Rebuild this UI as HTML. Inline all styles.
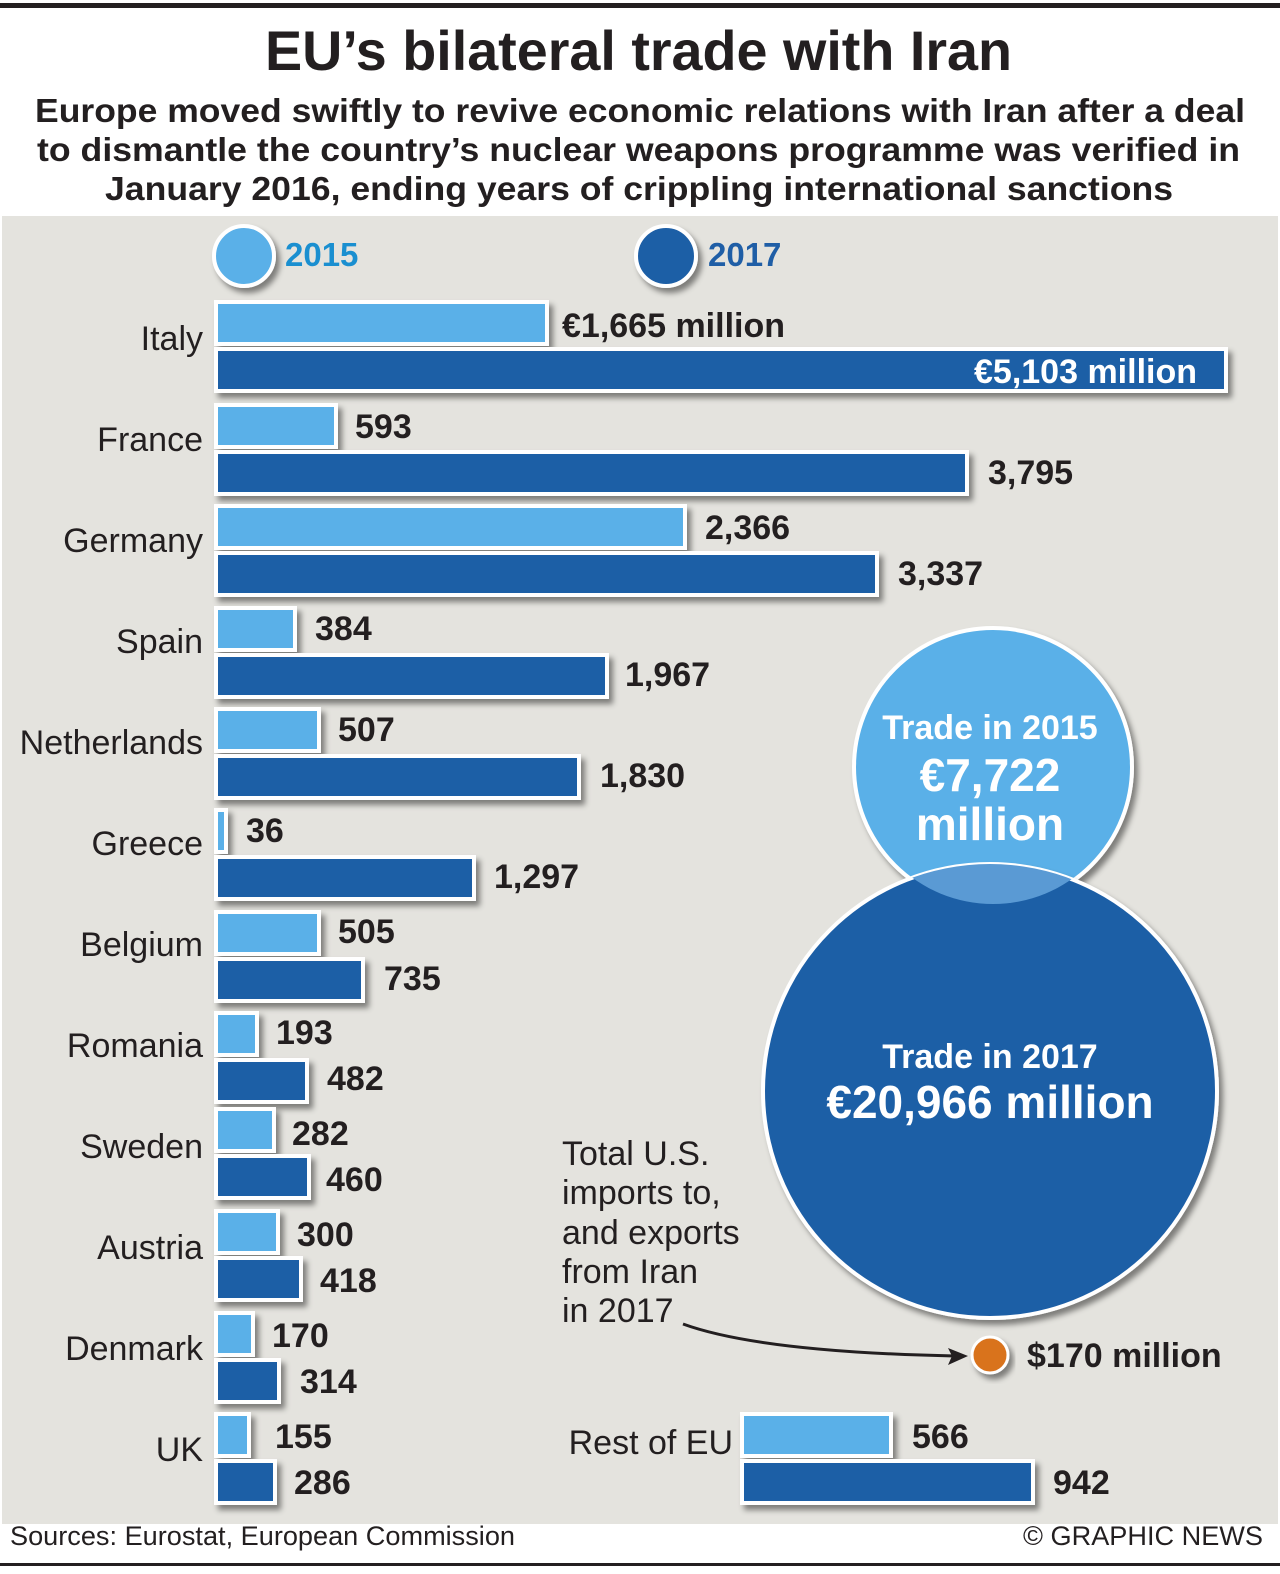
<!DOCTYPE html>
<html><head><meta charset="utf-8"><style>
html,body{margin:0;padding:0;background:#fff;}
svg{display:block;}
text{font-family:"Liberation Sans",Arial,sans-serif;}
.b{font-weight:bold;fill:#231f20;font-size:34px;}
.c{fill:#231f20;font-size:34px;text-anchor:end;}
</style></head><body>
<svg width="1280" height="1574" viewBox="0 0 1280 1574" xmlns="http://www.w3.org/2000/svg">
<defs>
<filter id="sh" x="-10%" y="-10%" width="130%" height="140%"><feDropShadow dx="4" dy="5" stdDeviation="3" flood-color="#000" flood-opacity="0.45"/></filter>
<clipPath id="cp"><circle cx="990" cy="1091" r="227"/></clipPath>
</defs>
<rect x="0" y="0" width="1280" height="1574" fill="#fff"/>
<rect x="0" y="3" width="1280" height="5" fill="#231f20"/>
<text x="265" y="70" font-size="56" font-weight="bold" fill="#231f20" textLength="747" lengthAdjust="spacingAndGlyphs">EU’s bilateral trade with Iran</text>
<text x="35" y="122" font-size="33" font-weight="bold" fill="#231f20" textLength="1210" lengthAdjust="spacingAndGlyphs">Europe moved swiftly to revive economic relations with Iran after a deal</text>
<text x="37" y="161" font-size="33" font-weight="bold" fill="#231f20" textLength="1203" lengthAdjust="spacingAndGlyphs">to dismantle the country’s nuclear weapons programme was verified in</text>
<text x="105" y="200" font-size="33" font-weight="bold" fill="#231f20" textLength="1068" lengthAdjust="spacingAndGlyphs">January 2016, ending years of crippling international sanctions</text>
<rect x="2" y="216" width="1276" height="1308" fill="#e4e3de"/>
<circle cx="244" cy="256" r="30" fill="#5ab0e8" stroke="#fff" stroke-width="4" filter="url(#sh)"/>
<text x="285" y="266" font-size="33" font-weight="bold" fill="#1a8fd0">2015</text>
<circle cx="666" cy="256" r="30" fill="#1f5ea6" stroke="#fff" stroke-width="4" filter="url(#sh)"/>
<text x="708" y="266" font-size="33" font-weight="bold" fill="#1f5ea6">2017</text>
<g stroke="#fff" stroke-width="4" filter="url(#sh)">
<rect x="216" y="302" width="331" height="42" fill="#5ab0e8"/><rect x="216" y="349" width="1010" height="42" fill="#1f5ea6"/>
<rect x="216" y="405" width="120" height="42" fill="#5ab0e8"/><rect x="216" y="452" width="751" height="42" fill="#1f5ea6"/>
<rect x="216" y="506" width="469" height="42" fill="#5ab0e8"/><rect x="216" y="553" width="661" height="42" fill="#1f5ea6"/>
<rect x="216" y="608" width="79" height="42" fill="#5ab0e8"/><rect x="216" y="655" width="391" height="42" fill="#1f5ea6"/>
<rect x="216" y="709" width="103" height="42" fill="#5ab0e8"/><rect x="216" y="756" width="363" height="42" fill="#1f5ea6"/>
<rect x="216" y="810" width="10" height="42" fill="#5ab0e8"/><rect x="216" y="857" width="258" height="42" fill="#1f5ea6"/>
<rect x="216" y="912" width="103" height="42" fill="#5ab0e8"/><rect x="216" y="959" width="147" height="42" fill="#1f5ea6"/>
<rect x="216" y="1013" width="41" height="42" fill="#5ab0e8"/><rect x="216" y="1060" width="91" height="42" fill="#1f5ea6"/>
<rect x="216" y="1109" width="58" height="42" fill="#5ab0e8"/><rect x="216" y="1156" width="93" height="42" fill="#1f5ea6"/>
<rect x="216" y="1211" width="62" height="42" fill="#5ab0e8"/><rect x="216" y="1258" width="85" height="42" fill="#1f5ea6"/>
<rect x="216" y="1313" width="37" height="42" fill="#5ab0e8"/><rect x="216" y="1360" width="63" height="42" fill="#1f5ea6"/>
<rect x="216" y="1414" width="33" height="42" fill="#5ab0e8"/><rect x="216" y="1461" width="59" height="42" fill="#1f5ea6"/>
<rect x="742" y="1414" width="149" height="42" fill="#5ab0e8"/><rect x="742" y="1461" width="291" height="42" fill="#1f5ea6"/>
</g>
<g class="c">
<text x="203" y="350">Italy</text><text x="203" y="451">France</text><text x="203" y="552">Germany</text>
<text x="203" y="653">Spain</text><text x="203" y="754">Netherlands</text><text x="203" y="855">Greece</text>
<text x="203" y="956">Belgium</text><text x="203" y="1057">Romania</text><text x="203" y="1158">Sweden</text>
<text x="203" y="1259">Austria</text><text x="203" y="1360">Denmark</text><text x="203" y="1461">UK</text>
<text x="733" y="1454">Rest of EU</text>
</g>
<g class="b">
<text x="562" y="337">€1,665 million</text>
<text x="1197" y="383" text-anchor="end" style="fill:#fff">€5,103 million</text>
<text x="355" y="438">593</text><text x="988" y="484">3,795</text>
<text x="705" y="539">2,366</text><text x="898" y="585">3,337</text>
<text x="315" y="640">384</text><text x="625" y="686">1,967</text>
<text x="338" y="741">507</text><text x="600" y="787">1,830</text>
<text x="246" y="842">36</text><text x="494" y="888">1,297</text>
<text x="338" y="943">505</text><text x="384" y="990">735</text>
<text x="276" y="1044">193</text><text x="327" y="1090">482</text>
<text x="292" y="1145">282</text><text x="326" y="1191">460</text>
<text x="297" y="1246">300</text><text x="320" y="1292">418</text>
<text x="272" y="1347">170</text><text x="300" y="1393">314</text>
<text x="275" y="1448">155</text><text x="294" y="1494">286</text>
<text x="912" y="1448">566</text><text x="1053" y="1494">942</text>
</g>
<circle cx="993" cy="767" r="139" fill="#5ab0e8" stroke="#fff" stroke-width="4" filter="url(#sh)"/>
<circle cx="990" cy="1091" r="227" fill="#1f5ea6" stroke="#fff" stroke-width="4" filter="url(#sh)"/>
<circle cx="993" cy="767" r="137" fill="#5a9ad4" clip-path="url(#cp)"/>
<text x="990" y="739" text-anchor="middle" font-size="34" font-weight="bold" fill="#fff">Trade in 2015</text>
<text x="990" y="791" text-anchor="middle" font-size="46" font-weight="bold" fill="#fff">€7,722</text>
<text x="990" y="840" text-anchor="middle" font-size="46" font-weight="bold" fill="#fff">million</text>
<text x="990" y="1068" text-anchor="middle" font-size="34" font-weight="bold" fill="#fff">Trade in 2017</text>
<text x="990" y="1118" text-anchor="middle" font-size="46" font-weight="bold" fill="#fff">€20,966 million</text>
<g font-size="34" fill="#231f20">
<text x="562" y="1165">Total U.S.</text><text x="562" y="1204">imports to,</text>
<text x="562" y="1244">and exports</text><text x="562" y="1283">from Iran</text><text x="562" y="1322">in 2017</text>
</g>
<path d="M 683 1324 Q 760 1352 955 1356" fill="none" stroke="#231f20" stroke-width="3"/>
<polygon points="968,1356 948,1348 952,1356 948,1365" fill="#231f20"/>
<circle cx="990" cy="1355" r="18" fill="#d9731f" stroke="#fff" stroke-width="3" filter="url(#sh)"/>
<text x="1027" y="1367" class="b">$170 million</text>
<text x="10" y="1545" font-size="27" fill="#231f20" textLength="505" lengthAdjust="spacingAndGlyphs">Sources: Eurostat, European Commission</text>
<text x="1263" y="1545" font-size="27" fill="#231f20" text-anchor="end" textLength="240" lengthAdjust="spacingAndGlyphs">© GRAPHIC NEWS</text>
<rect x="0" y="1563" width="1280" height="3" fill="#231f20"/>
</svg>
</body></html>
